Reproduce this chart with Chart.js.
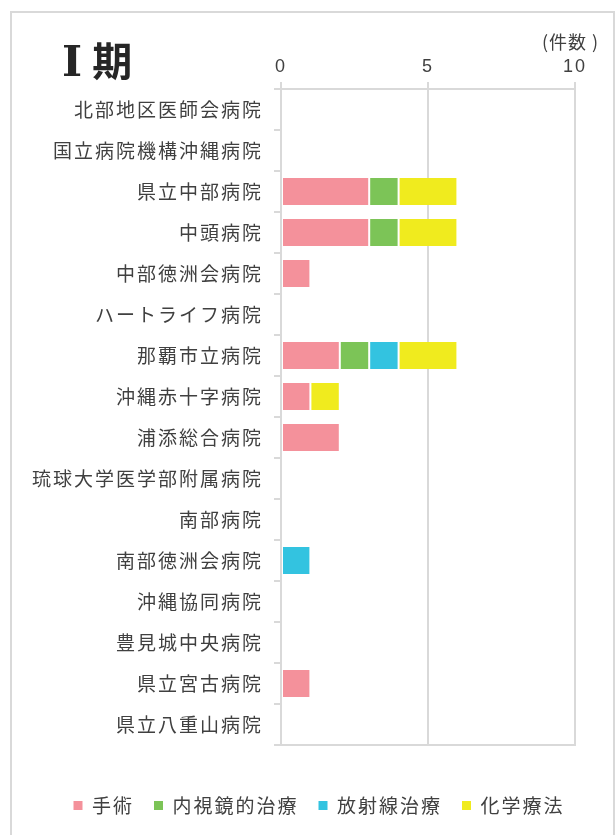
<!DOCTYPE html>
<html lang="ja">
<head>
<meta charset="utf-8">
<title>Ⅰ期</title>
<script src="https://cdn.jsdelivr.net/npm/chart.js@4.4.1/dist/chart.umd.min.js"></script>
<style>
  body { margin: 0; background: #fff; overflow: hidden; }
  #wrap { position: relative; width: 616px; height: 835px; }
  #frame { position: absolute; left: 10px; top: 11px; width: 605px; height: 850px; border: 2px solid #d9d9d9; box-sizing: border-box; }
  #title { position: absolute; left: 62px; top: 39px; font: bold 40px 'Noto Sans CJK JP'; color: #262626; line-height: 1; white-space: nowrap; }
  #title .num { font-family: 'DejaVu Serif', serif; font-size: 43px; margin-right: 10px; }
  #unit { position: absolute; left: 542px; top: 32px; font: 18px 'Noto Sans CJK JP'; letter-spacing: 1px; color: #404040; line-height: 1; white-space: nowrap; }
  #unit .close { margin-left: 5px; }
  #chart { position: absolute; left: 0; top: 0; }
</style>
</head>
<body>
<div id="wrap">
  <div id="frame"></div>
  <canvas id="chart" width="616" height="835"></canvas>
  <div id="title"><span class="num">Ⅰ</span>期</div>
  <div id="unit">(件数<span class="close">)</span></div>
</div>
<script>
// hospitals, top to bottom
const hospitals = [
    '北部地区医師会病院', '国立病院機構沖縄病院', '県立中部病院', '中頭病院',
    '中部徳洲会病院', 'ハートライフ病院', '那覇市立病院', '沖縄赤十字病院',
    '浦添総合病院', '琉球大学医学部附属病院', '南部病院', '南部徳洲会病院',
    '沖縄協同病院', '豊見城中央病院', '県立宮古病院', '県立八重山病院'
];

// cases per treatment (件数)
const surgery      = [0, 0, 3, 3, 1, 0, 2, 1, 2, 0, 0, 0, 0, 0, 1, 0];
const endoscopic   = [0, 0, 1, 1, 0, 0, 1, 0, 0, 0, 0, 0, 0, 0, 0, 0];
const radiotherapy = [0, 0, 0, 0, 0, 0, 1, 0, 0, 0, 0, 1, 0, 0, 0, 0];
const chemotherapy = [0, 0, 2, 2, 0, 0, 2, 1, 0, 0, 0, 0, 0, 0, 0, 0];

const seriesNames = ['手術', '内視鏡的治療', '放射線治療', '化学療法'];
const xTicks = [0, 5, 10];

const textColor = '#404040';
const gridColor = '#d9d9d9';
const jpFont = "'Noto Sans CJK JP', 'Noto Sans', sans-serif";

function makeSet(label, data, color) {
    return {
        label: label,
        data: data,
        backgroundColor: color,
        borderColor: '#ffffff',
        borderWidth: { left: 1, right: 1 },
        borderSkipped: false,
        barPercentage: 0.66,
        categoryPercentage: 1
    };
}

// the source chart has a little extra space between characters
const spacingPlugin = {
    id: 'spacing',
    beforeUpdate(chart) { chart.ctx.letterSpacing = '2px'; },
    beforeDraw(chart) { chart.ctx.letterSpacing = '2px'; },
    // legend sits a bit right of the plot centre in the original
    afterLayout(chart) {
        chart.legend.left += 24;
        chart.legend.right += 24;
    }
};

document.addEventListener('DOMContentLoaded', function () {
    const ctx = document.getElementById('chart').getContext('2d');
    new Chart(ctx, {
        type: 'bar',
        data: {
            labels: hospitals,
            datasets: [
                makeSet(seriesNames[0], surgery, '#f4919b'),
                makeSet(seriesNames[1], endoscopic, '#7cc457'),
                makeSet(seriesNames[2], radiotherapy, '#33c3e0'),
                makeSet(seriesNames[3], chemotherapy, '#f0eb1e')
            ]
        },
        options: {
            indexAxis: 'y',
            responsive: false,
            animation: false,
            layout: { padding: { left: 15, right: 41, top: 0, bottom: 10 } },
            scales: {
                x: {
                    position: 'top',
                    stacked: true,
                    min: xTicks[0],
                    max: xTicks[xTicks.length - 1],
                    afterBuildTicks(scale) { scale.ticks = xTicks.map(v => ({ value: v })); },
                    ticks: { color: textColor, font: { family: "'Liberation Sans', Arial, sans-serif", size: 18 }, padding: 4 },
                    grid: { color: gridColor, lineWidth: 2, tickLength: 7 },
                    border: { color: gridColor, width: 2 },
                    afterFit(scale) { scale.height = 89; }
                },
                x2: {
                    type: 'linear',
                    position: 'bottom',
                    min: 0,
                    max: 10,
                    ticks: { display: false },
                    grid: { display: false, drawTicks: false },
                    border: { color: gridColor, width: 2 },
                    afterFit(scale) { scale.height = 31; }
                },
                y: {
                    stacked: true,
                    ticks: { color: textColor, font: { family: jpFont, size: 19 }, padding: 11 },
                    grid: { drawOnChartArea: false, color: gridColor, lineWidth: 2, tickLength: 7 },
                    border: { color: gridColor, width: 2 },
                    afterFit(scale) { scale.width = 281 - 15; }
                }
            },
            plugins: {
                legend: {
                    position: 'bottom',
                    labels: {
                        boxWidth: 9,
                        boxHeight: 9,
                        padding: 20,
                        color: textColor,
                        font: { family: jpFont, size: 19 },
                        generateLabels(chart) {
                            return Chart.defaults.plugins.legend.labels.generateLabels(chart).map(l =>
                                Object.assign(l, { lineWidth: 0, strokeStyle: l.fillStyle }));
                        }
                    }
                },
                tooltip: { enabled: false }
            }
        },
        plugins: [spacingPlugin]
    });
});
</script>
</body>
</html>
